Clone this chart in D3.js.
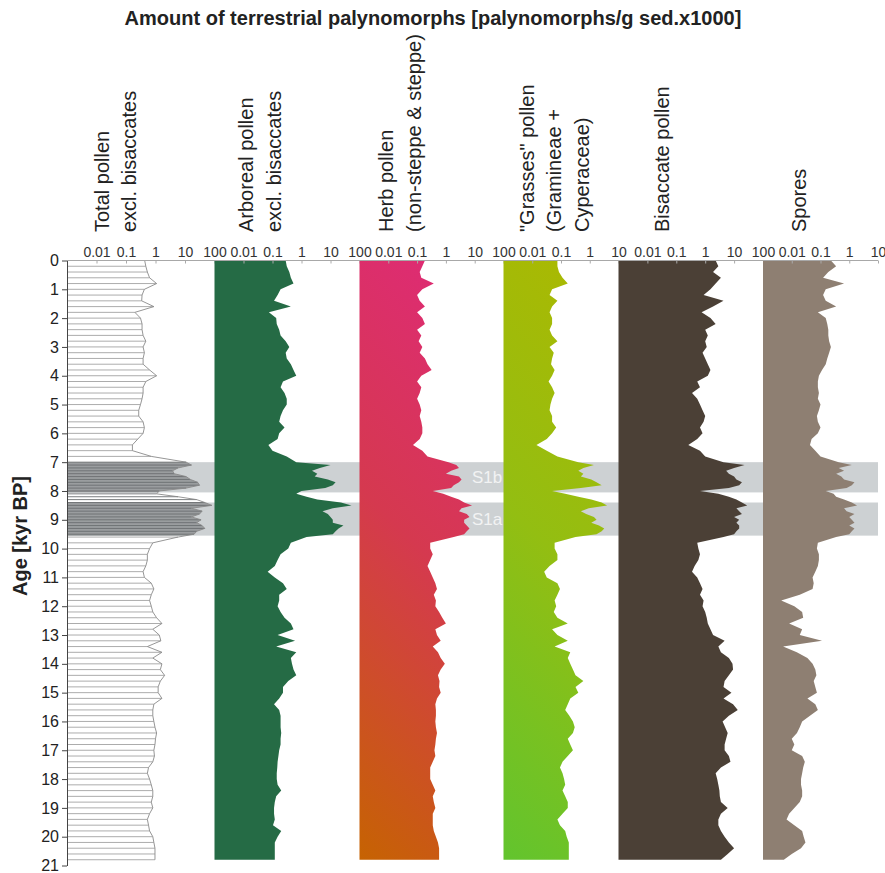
<!DOCTYPE html>
<html lang="en">
<head>
<meta charset="UTF-8">
<title>Terrestrial palynomorphs</title>
<script src="https://d3js.org/d3.v7.min.js"></script>
<style>
  body { margin: 0; background: #fff; }
  svg { display: block; font-family: "Liberation Sans", Arial, sans-serif; }
</style>
</head>
<body>
<div id="chart"></div>
<script>
// sample ages (kyr BP)
const ages = [0,0.2,0.4,0.6,0.8,1.0,1.2,1.4,1.6,1.8,2.0,2.2,2.4,2.6,2.8,3.0,3.2,3.4,3.6,3.8,4.0,4.2,4.4,4.6,4.8,5.0,5.2,5.4,5.6,5.8,6.0,6.2,6.4,6.6,6.8,
  7.0,7.1,7.2,7.3,7.4,7.5,7.6,7.7,7.8,7.9,8.0,8.1,8.2,8.3,8.4,8.5,8.6,8.7,8.8,8.9,9.0,9.1,9.2,9.3,9.4,9.5,9.6,
  9.8,10.0,10.2,10.4,10.6,10.8,11.0,11.2,11.4,11.6,11.8,12.0,12.2,12.4,12.6,12.8,13.0,13.2,13.4,13.6,13.8,14.0,14.2,14.4,14.6,14.8,
  15.0,15.2,15.4,15.6,15.8,16.0,16.2,16.4,16.6,16.8,17.0,17.2,17.4,17.6,17.8,18.0,18.2,18.4,18.6,18.8,19.0,19.2,19.4,19.6,19.8,20.0,20.2,20.4,20.6,20.8];

// palynomorphs/g sed. x1000
const totalPollen = [0.43,0.47,0.53,0.63,1.09,0.42,0.35,0.34,0.88,0.2,0.31,0.35,0.35,0.38,0.47,0.38,0.42,0.38,0.38,0.63,1.09,0.47,0.38,0.38,0.35,0.31,0.27,0.27,0.38,0.42,0.38,0.25,0.165,0.165,0.72,
  10.9,16.5,5.8,3.8,4.3,10.9,15.2,27,31,10.9,1.34,1.09,5.8,25,47,81,16.5,38,31,16.5,35,25,38,47,25,20.3,5.8,
  0.81,0.63,0.53,0.53,0.47,0.38,0.42,0.72,0.88,0.72,0.63,0.72,0.81,1.09,1.65,0.81,1.34,1.52,0.53,1.65,0.81,1.65,1.46,2.04,1.46,1.23,
  1.23,1.65,0.88,0.81,0.81,0.88,0.96,1.09,1.0,0.96,0.88,0.92,0.81,0.58,0.53,0.63,0.72,0.81,0.81,0.72,0.81,0.63,0.53,0.58,0.63,0.81,0.88,0.96,0.96,0.96];
const arborealPollen = [0.285,0.31,0.38,0.43,0.53,0.19,0.15,0.113,0.43,0.075,0.134,0.14,0.17,0.19,0.285,0.38,0.285,0.31,0.43,0.53,0.66,0.23,0.19,0.26,0.31,0.31,0.23,0.19,0.17,0.26,0.17,0.15,0.072,0.10,0.31,
  0.66,10,4.3,2.3,3.5,2.85,8.1,15,12,6.6,1.0,0.66,1.5,3.5,23,53,12,5.3,8.1,10,12,12,28,19,15,12,1.5,
  0.43,0.35,0.19,0.15,0.12,0.068,0.12,0.23,0.31,0.17,0.17,0.15,0.19,0.26,0.43,0.53,0.15,0.6,0.134,0.66,0.43,0.47,0.53,0.66,0.35,0.23,
  0.23,0.17,0.113,0.17,0.19,0.19,0.19,0.2,0.19,0.19,0.17,0.16,0.15,0.146,0.14,0.14,0.15,0.2,0.134,0.12,0.113,0.113,0.12,0.104,0.2,0.15,0.12,0.12,0.12,0.12];
const herbPollen = [0.187,0.152,0.123,0.14,0.38,0.152,0.1,0.123,0.187,0.1,0.152,0.187,0.1,0.14,0.113,0.152,0.123,0.187,0.23,0.32,0.14,0.1,0.14,0.123,0.1,0.123,0.14,0.123,0.14,0.152,0.152,0.123,0.072,0.152,0.23,
  1.23,2.3,2.85,1.52,1.0,2.85,3.5,2.85,1.87,1.52,0.35,0.81,1.52,2.85,4.3,8.1,3.5,2.85,5.3,6.6,4.3,4.3,5.3,6.6,5.3,4.3,1.87,
  0.285,0.285,0.35,0.285,0.23,0.285,0.35,0.43,0.49,0.38,0.45,0.43,0.58,0.75,1.0,0.43,0.49,0.66,0.35,0.53,0.66,0.92,0.66,0.53,0.6,0.58,
  0.66,0.49,0.43,0.45,0.45,0.43,0.45,0.49,0.45,0.43,0.4,0.43,0.35,0.285,0.285,0.285,0.35,0.43,0.35,0.38,0.43,0.35,0.35,0.35,0.38,0.45,0.53,0.58,0.58,0.58];
const grassPollen = [0.075,0.075,0.085,0.113,0.172,0.049,0.04,0.075,0.049,0.04,0.049,0.049,0.04,0.049,0.075,0.04,0.056,0.049,0.045,0.06,0.049,0.037,0.049,0.06,0.049,0.043,0.04,0.049,0.049,0.068,0.049,0.032,0.014,0.032,0.075,
  0.4,1.4,0.6,0.4,0.6,0.49,1.13,1.72,2.6,0.49,0.049,0.14,0.4,1.13,2.6,4.0,0.92,0.49,0.75,1.4,1.72,1.13,2.1,3.2,2.6,1.72,0.32,
  0.06,0.06,0.075,0.075,0.04,0.026,0.032,0.075,0.092,0.075,0.06,0.068,0.056,0.075,0.172,0.049,0.075,0.172,0.06,0.21,0.172,0.21,0.26,0.32,0.6,0.32,
  0.4,0.21,0.172,0.14,0.195,0.26,0.3,0.26,0.172,0.21,0.26,0.172,0.113,0.092,0.113,0.128,0.14,0.113,0.14,0.172,0.172,0.113,0.075,0.092,0.14,0.158,0.187,0.187,0.187,0.187];
const bisaccatePollen = [2.3,2.85,1.87,3.5,2.3,1.52,0.88,4.3,1.87,0.75,1.52,2.3,1.0,1.23,1.0,1.13,0.81,1.0,1.23,1.52,1.23,0.53,0.66,0.35,0.53,0.66,0.81,1.0,0.88,0.66,0.81,0.53,0.26,0.66,1.0,
  4.3,23,10,5.3,6.6,10,12,18.7,15,6.6,0.66,2.85,6.6,12,18.7,28.5,12,15,18.7,10,15,12,15,15,12,10,4.3,
  0.53,0.58,0.66,0.58,0.43,0.35,0.53,0.66,0.81,0.66,0.88,0.81,1.0,1.13,1.23,1.52,1.87,4.7,2.85,3.5,6.6,8.8,9.2,6.6,4.7,4.3,
  8.1,4.3,9.2,13.4,6.6,4.0,4.9,6.0,5.3,4.7,4.7,6.6,7.5,3.5,2.3,2.6,2.85,3.1,3.2,3.5,6.0,3.5,2.85,2.85,3.5,4.7,6.6,10,6.0,3.5];
const spores = [0.23,0.35,0.187,0.123,0.66,0.152,0.123,0.152,0.35,0.081,0.152,0.172,0.187,0.187,0.2,0.23,0.2,0.172,0.152,0.113,0.088,0.081,0.081,0.088,0.081,0.1,0.088,0.075,0.081,0.1,0.081,0.049,0.043,0.066,0.1,
  0.43,1.23,0.43,0.66,0.35,0.53,0.66,1.52,1.23,0.81,0.152,0.285,0.35,0.66,1.23,1.87,0.66,0.81,1.52,1.0,1.23,1.52,1.0,1.52,1.23,1.0,0.35,
  0.081,0.075,0.088,0.088,0.081,0.066,0.053,0.058,0.053,0.019,0.0043,0.0123,0.023,0.025,0.0081,0.023,0.019,0.113,0.005,0.015,0.035,0.053,0.066,0.072,0.058,0.066,
  0.075,0.035,0.066,0.081,0.043,0.023,0.019,0.0152,0.01,0.0123,0.01,0.023,0.0285,0.025,0.023,0.021,0.021,0.023,0.023,0.019,0.0123,0.0081,0.0066,0.0123,0.023,0.026,0.03,0.021,0.01,0.0053];

const ticks5 = [0.01, 0.1, 1, 10, 100];
const ticks4 = [0.01, 0.1, 1, 10];
const ageTicks = d3.range(0, 22);
const s1Bands = [{label: "S1b", from: 7.0, to: 8.05}, {label: "S1a", from: 8.4, to: 9.55}];

const W = 885, H = 873;
const yTop = 260.5, yBottom = 865.5, axisRight = 878;

const panels = [
  {values: totalPollen, max: 100, range: [67, 214.5], ticks: ticks5, header: ["Total pollen", "excl. bisaccates"], hx: [108.5, 136]},
  {values: arborealPollen, max: 100, range: [214.5, 359.5], ticks: ticks5, header: ["Arboreal pollen", "excl. bisaccates"], hx: [253, 281], fill: "#256b45"},
  {values: herbPollen, max: 100, range: [359.5, 503.5], ticks: ticks5, header: ["Herb pollen", "(non-steppe & steppe)"], hx: [393, 420.5], fill: "url(#gradHerb)",
    grad: {id: "gradHerb", stops: ["#e0287c", "#d5394f", "#c66302"]}},
  {values: grassPollen, max: 10, range: [503.5, 618.5], ticks: ticks4, header: ["\"Grasses\" pollen", "(Gramineae +", "Cyperaceae)"], hx: [533.5, 561, 588.5], fill: "url(#gradGrass)",
    grad: {id: "gradGrass", stops: ["#adb800", "#93be12", "#62c42e"]}},
  {values: bisaccatePollen, max: 100, range: [618.5, 763], ticks: ticks5, header: ["Bisaccate pollen"], hx: [668.5], fill: "#4b4036"},
  {values: spores, max: 10, range: [763, axisRight], ticks: ticks4, header: ["Spores"], hx: [806], fill: "#8e7f72"}
];

const svg = d3.select("#chart").append("svg").attr("width", W).attr("height", H);
const defs = svg.append("defs");

const y = d3.scaleLinear().domain([0, 21]).range([yTop, yBottom]);

// title
svg.append("text").attr("x", 433).attr("y", 25).attr("text-anchor", "middle")
  .attr("font-size", 20).attr("font-weight", "bold").attr("fill", "#222")
  .text("Amount of terrestrial palynomorphs [palynomorphs/g sed.x1000]");

// S1 bands behind the curves
svg.append("g").selectAll("rect").data(s1Bands).join("rect")
  .attr("x", 67).attr("width", axisRight - 67)
  .attr("y", d => y(d.from)).attr("height", d => y(d.to) - y(d.from))
  .attr("fill", "#cdd1d3");

const clip = defs.append("clipPath").attr("id", "s1clip");
clip.selectAll("rect").data(s1Bands).join("rect")
  .attr("x", 0).attr("width", W)
  .attr("y", d => y(d.from)).attr("height", d => y(d.to) - y(d.from));

panels.forEach((p, i) => {
  const x = d3.scaleLog().domain([0.001, p.max]).range(p.range);
  const pts = ages.map((a, j) => ({age: a, v: p.values[j]}));
  const g = svg.append("g");

  if (p.grad) {
    const w = p.range[1] - p.range[0], h = y(20.8) - yTop;
    const lg = defs.append("linearGradient").attr("id", p.grad.id)
      .attr("gradientUnits", "userSpaceOnUse")
      .attr("x1", p.range[1]).attr("y1", yTop)
      .attr("x2", p.range[1] - (w + h) / 2).attr("y2", yTop + (w + h) / 2);
    p.grad.stops.forEach((c, k) => lg.append("stop").attr("offset", k / (p.grad.stops.length - 1)).attr("stop-color", c));
  }

  const area = d3.area().y(d => y(d.age)).x0(p.range[0]).x1(d => x(d.v));

  if (i === 0) {
    // total pollen: sample lines + outline
    g.append("path").attr("d", area(pts)).attr("fill", "#9a9d9f").attr("clip-path", "url(#s1clip)");
    g.selectAll("line").data(pts).join("line")
      .attr("x1", p.range[0]).attr("x2", d => x(d.v))
      .attr("y1", d => y(d.age)).attr("y2", d => y(d.age))
      .attr("stroke", d => (d.age >= 7 && d.age <= 9.55) ? "#6b6e70" : "#a3a3a3")
      .attr("stroke-width", 0.9);
    g.append("path").attr("d", d3.line().x(d => x(d.v)).y(d => y(d.age))(pts))
      .attr("fill", "none").attr("stroke", "#8a8a8a").attr("stroke-width", 0.9);
  } else {
    g.append("path").attr("d", area(pts)).attr("fill", p.fill);
  }

  // top axis labels
  const ax = svg.append("g").attr("transform", `translate(0,${yTop})`)
    .call(d3.axisTop(x).tickValues(p.ticks).tickFormat(d => String(d)).tickSizeInner(-3).tickSizeOuter(0).tickPadding(4));
  ax.select(".domain").remove();
  ax.selectAll(".tick line").attr("stroke", "#aaa");
  ax.selectAll("text").attr("font-size", 14).attr("fill", "#333").attr("font-family", null);

  // header
  p.header.forEach((t, k) => {
    svg.append("text").attr("transform", `translate(${p.hx[k]},232) rotate(-90)`)
      .attr("font-size", 20).attr("fill", "#222").text(t);
  });
});

// band labels
svg.append("g").selectAll("text").data(s1Bands).join("text")
  .attr("x", 487).attr("y", d => y((d.from + d.to) / 2) + 6)
  .attr("text-anchor", "middle").attr("font-size", 17).attr("fill", "#f2f3f3")
  .text(d => d.label);

// top axis line
svg.append("line").attr("x1", 67).attr("x2", axisRight).attr("y1", yTop).attr("y2", yTop)
  .attr("stroke", "#a8a8a8").attr("stroke-width", 1);

// age axis
const yAxis = svg.append("g").attr("transform", "translate(67,0)")
  .call(d3.axisLeft(y).tickValues(ageTicks).tickFormat(d3.format("d")).tickSizeInner(5).tickSizeOuter(0).tickPadding(3));
yAxis.select(".domain").attr("stroke", "#444");
yAxis.selectAll(".tick line").attr("stroke", "#444");
yAxis.selectAll("text").attr("font-size", 16).attr("fill", "#222").attr("font-family", null);

svg.append("text").attr("transform", "translate(27,536) rotate(-90)")
  .attr("text-anchor", "middle").attr("font-size", 20).attr("font-weight", "bold").attr("fill", "#222")
  .text("Age [kyr BP]");
</script>
</body>
</html>
